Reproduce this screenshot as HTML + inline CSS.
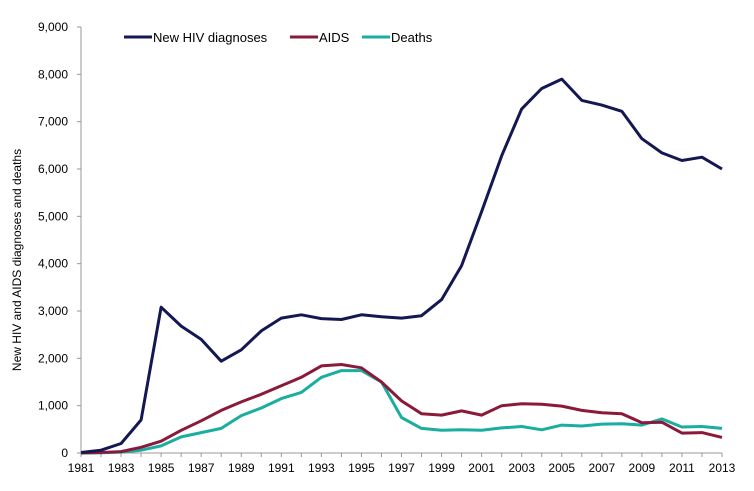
<!DOCTYPE html>
<html><head><meta charset="utf-8"><style>
body{margin:0;background:#fff;font-family:"Liberation Sans",sans-serif}
svg text{font-family:"Liberation Sans",sans-serif;fill:#000}
</style></head><body>
<svg id="chart" width="754" height="486" viewBox="0 0 754 486"></svg>
<script>
const years=[];for(let y=1981;y<=2013;y++)years.push(y);
const hivValues=[10,60,200,700,3080,2680,2400,1940,2180,2580,2850,2920,2840,2820,2920,2880,2850,2900,3240,3960,5100,6280,7270,7700,7900,7450,7350,7220,6640,6340,6180,6250,6000];
const aidsValues=[0,10,30,120,250,480,680,900,1080,1240,1420,1600,1840,1870,1800,1500,1100,830,800,890,800,1000,1040,1030,990,900,850,830,640,650,420,430,330];
const deathValues=[0,5,20,60,150,340,430,520,790,950,1150,1280,1600,1740,1740,1500,750,520,480,490,480,530,560,490,590,570,610,620,590,720,550,560,520];
const yTicks=[0,1000,2000,3000,4000,5000,6000,7000,8000,9000];
const xLabels=[1981,1983,1985,1987,1989,1991,1993,1995,1997,1999,2001,2003,2005,2007,2009,2011,2013];
const svg=document.getElementById('chart');const NS='http://www.w3.org/2000/svg';
const X0=81,X1=722,Y0=453,Y1=27;
const xs=y=>X0+(y-1981)*(X1-X0)/32;
const ys=v=>Y0-v*(Y0-Y1)/9000;
function mk(t,a,p){const e=document.createElementNS(NS,t);for(const k in a)e.setAttribute(k,a[k]);(p||svg).appendChild(e);return e;}
let e;
e=mk('line',{x1:X0,y1:Y1,x2:X0,y2:Y0,stroke:'#999'});


e=mk('line',{x1:X0,y1:Y0,x2:X1,y2:Y0,stroke:'#999'});


yTicks.forEach(v=>{mk('line',{x1:X0-4,y1:ys(v),x2:X0,y2:ys(v),stroke:'#999'});
 e=mk('text',{x:X0-13,y:ys(v)+4,'text-anchor':'end','font-size':12});e.textContent=v.toLocaleString('en-US');
 
 });
years.forEach(y=>mk('line',{x1:xs(y),y1:Y0,x2:xs(y),y2:Y0+4,stroke:'#999'}));
xLabels.forEach(y=>{e=mk('text',{x:xs(y),y:Y0+19,'text-anchor':'middle','font-size':12});e.textContent=y;
 
 });
e=mk('text',{x:0,y:0,'text-anchor':'middle','font-size':12,transform:`translate(21,${(Y0+Y1)/2+20}) rotate(-90)`});
e.textContent='New HIV and AIDS diagnoses and deaths';


function line(vals,color,name){const d=vals.map((v,i)=>(i?'L':'M')+xs(years[i]).toFixed(1)+','+ys(v).toFixed(1)).join('');
 const p=mk('path',{d,fill:'none',stroke:color,'stroke-width':3,'stroke-linejoin':'round'});
 
 }
line(deathValues,'#1aada0','deaths-line');
line(aidsValues,'#8b1a3a','aids-line');
line(hivValues,'#141852','new-hiv-line');
const legend=[['New HIV diagnoses','#141852',124],['AIDS','#8b1a3a',290],['Deaths','#1aada0',362]];
legend.forEach(([t,c,x])=>{const g=mk('g',{});
 
 
 mk('line',{x1:x,y1:37,x2:x+28,y2:37,stroke:c,'stroke-width':3},g);
 const tx=mk('text',{x:x+29,y:42,'font-size':13},g);tx.textContent=t;});
</script>
</body></html>
